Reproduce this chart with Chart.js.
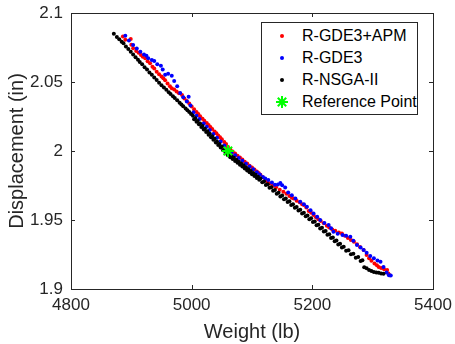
<!DOCTYPE html>
<html>
<head>
<meta charset="utf-8">
<script src="https://cdn.jsdelivr.net/npm/chart.js@4.4.0/dist/chart.umd.min.js"></script>
<style>
  body { margin: 0; background: #fff; }
  #wrap { position: relative; width: 455px; height: 344px; }
  #legend {
    position: absolute; left: 261px; top: 22px; width: 157px; height: 93px;
    box-sizing: border-box; border: 1px solid #262626; background: #fff;
    padding-top: 2px; font: 16px "Liberation Sans", Arial, sans-serif; color: #000;
  }
  .row { display: flex; align-items: center; height: 22px; }
  .mk { width: 40px; display: flex; justify-content: center; align-items: center; }
</style>
</head>
<body>
<div id="wrap">
  <canvas id="myChart" width="455" height="344"></canvas>
  <div id="legend"></div>
</div>
<script>
// R-NSGA-II (black)
const nsgaX = [4871, 4876, 4880, 4884, 4887, 4891, 4895, 4899, 4903, 4907, 4911, 4914, 4918, 4922, 4926, 4930,
  4934, 4938, 4942, 4946, 4950, 4954, 4958, 4962, 4965, 4969, 4972, 4976, 4980, 4983, 4986, 4990, 4993, 4996, 4999,
  5002, 5004, 5006, 5008, 5010, 5012, 5014, 5016, 5018, 5020, 5022, 5024, 5026, 5028, 5030, 5032, 5034, 5036, 5038,
  5040, 5042, 5044, 5046, 5048, 5050, 5052, 5054, 5056, 5058, 5060, 5062, 5064, 5066, 5068, 5070, 5072, 5074, 5076,
  5078, 5080, 5082, 5084, 5086, 5088, 5090, 5092, 5094, 5096, 5098, 5100, 5102, 5104, 5106, 5108, 5110, 5112, 5114,
  5117, 5120, 5123, 5126, 5129, 5132, 5135, 5138, 5141, 5144, 5147, 5150, 5153, 5156, 5159, 5162, 5165, 5168, 5171,
  5174, 5177, 5180, 5183, 5186, 5189, 5192, 5195, 5198, 5201, 5204, 5207, 5210, 5213, 5216, 5219, 5222, 5225, 5228,
  5231, 5234, 5237, 5240, 5243, 5246, 5249, 5252, 5256, 5260, 5264, 5268, 5272, 5276, 5280, 5283, 5286, 5290, 5294,
  5298, 5302, 5306, 5310, 5314, 5318];
const nsgaY = [2.0850, 2.0826, 2.0810, 2.0791, 2.0781, 2.0758, 2.0740, 2.0719, 2.0699, 2.0680, 2.0662, 2.0645, 2.0628,
  2.0606, 2.0590, 2.0569, 2.0553, 2.0532, 2.0514, 2.0495, 2.0477, 2.0460, 2.0443, 2.0426, 2.0413, 2.0396, 2.0384,
  2.0367, 2.0350, 2.0337, 2.0325, 2.0308, 2.0295, 2.0282, 2.0269, 2.0256, 2.0230, 2.0237, 2.0212, 2.0218, 2.0193,
  2.0200, 2.0174, 2.0181, 2.0156, 2.0162, 2.0137, 2.0144, 2.0118, 2.0125, 2.0100, 2.0106, 2.0081, 2.0088, 2.0062,
  2.0069, 2.0044, 2.0050, 2.0025, 2.0032, 2.0006, 2.0013, 1.9988, 1.9994, 1.9969, 1.9978, 1.9955, 1.9964, 1.9942,
  1.9951, 1.9928, 1.9937, 1.9914, 1.9923, 1.9900, 1.9910, 1.9887, 1.9896, 1.9873, 1.9882, 1.9859, 1.9868, 1.9846,
  1.9855, 1.9832, 1.9841, 1.9818, 1.9827, 1.9805, 1.9814, 1.9791, 1.9800, 1.9774, 1.9779, 1.9753, 1.9759, 1.9733,
  1.9738, 1.9712, 1.9718, 1.9691, 1.9697, 1.9671, 1.9677, 1.9650, 1.9656, 1.9630, 1.9635, 1.9609, 1.9615, 1.9588,
  1.9594, 1.9568, 1.9574, 1.9547, 1.9553, 1.9527, 1.9532, 1.9506, 1.9512, 1.9485, 1.9490, 1.9462, 1.9466, 1.9439,
  1.9443, 1.9416, 1.9420, 1.9393, 1.9397, 1.9369, 1.9374, 1.9346, 1.9351, 1.9323, 1.9327, 1.9300, 1.9306, 1.9277,
  1.9281, 1.9252, 1.9256, 1.9227, 1.9231, 1.9202, 1.9209, 1.9158, 1.9150, 1.9138, 1.9130, 1.9124, 1.9120, 1.9117,
  1.9113, 1.9110];

// R-GDE3+APM (red)
const apmX = [4886, 4890, 4899, 4900, 4903, 4908, 4912, 4916, 4919, 4923, 4927, 4931, 4935, 4938, 4942, 4946, 4950,
  4953, 4956, 4960, 4964, 4967, 4971, 4975, 4979, 4984, 4988, 4992, 4996, 5000, 5004, 5008, 5011, 5014, 5018, 5021,
  5025, 5028, 5031, 5034, 5038, 5041, 5044, 5047, 5050, 5054, 5057, 5060, 5064, 5068, 5072, 5076, 5080, 5084, 5088,
  5092, 5096, 5100, 5104, 5108, 5111, 5114, 5118, 5122, 5126, 5130, 5135, 5140, 5146, 5152, 5157, 5162, 5166, 5169,
  5174, 5179, 5183, 5186, 5190, 5194, 5198, 5202, 5206, 5210, 5214, 5219, 5224, 5228, 5233, 5238, 5244, 5249, 5254,
  5259, 5264, 5269, 5274, 5279, 5285, 5290, 5294, 5298, 5303, 5307, 5310, 5314, 5319, 5324, 5326, 5328];
const apmY = [2.0830, 2.0806, 2.0812, 2.0770, 2.0745, 2.0725, 2.0712, 2.0695, 2.0683, 2.0672, 2.0650, 2.0636, 2.0610,
  2.0598, 2.0575, 2.0556, 2.0540, 2.0527, 2.0512, 2.0490, 2.0470, 2.0455, 2.0445, 2.0432, 2.0418, 2.0405, 2.0380,
  2.0363, 2.0345, 2.0322, 2.0302, 2.0283, 2.0268, 2.0252, 2.0234, 2.0220, 2.0202, 2.0188, 2.0174, 2.0160, 2.0141,
  2.0128, 2.0112, 2.0100, 2.0086, 2.0066, 2.0050, 2.0030, 2.0012, 1.9996, 1.9982, 1.9966, 1.9953, 1.9938, 1.9922,
  1.9910, 1.9893, 1.9880, 1.9866, 1.9851, 1.9840, 1.9827, 1.9810, 1.9790, 1.9775, 1.9765, 1.9750, 1.9738, 1.9720,
  1.9705, 1.9690, 1.9674, 1.9662, 1.9656, 1.9640, 1.9628, 1.9615, 1.9608, 1.9590, 1.9566, 1.9552, 1.9537, 1.9520,
  1.9506, 1.9492, 1.9476, 1.9458, 1.9445, 1.9432, 1.9422, 1.9410, 1.9402, 1.9385, 1.9370, 1.9355, 1.9342, 1.9325,
  1.9305, 1.9283, 1.9246, 1.9222, 1.9205, 1.9185, 1.9172, 1.9160, 1.9152, 1.9143, 1.9137, 1.9112, 1.9100];

// R-GDE3 (blue)
const gde3X = [4890, 4896, 4903, 4909, 4915, 4921, 4925, 4928, 4934, 4938, 4943, 4949, 4952, 4956, 4961, 4967, 4971,
  4976, 4981, 4986, 4992, 4995, 4998, 5003, 5008, 5013, 5020, 5025, 5030, 5036, 5042, 5048, 5054, 5060, 5066, 5072,
  5078, 5084, 5090, 5096, 5102, 5108, 5113, 5118, 5122, 5127, 5133, 5138, 5143, 5147, 5150, 5155, 5160, 5166, 5172,
  5180, 5186, 5191, 5197, 5202, 5208, 5213, 5220, 5227, 5231, 5235, 5242, 5250, 5256, 5263, 5268, 5274, 5280, 5285,
  5290, 5296, 5302, 5308, 5313, 5318, 5323, 5327, 5330];
const gde3Y = [2.0835, 2.0800, 2.0768, 2.0742, 2.0719, 2.0700, 2.0690, 2.0672, 2.0660, 2.0652, 2.0628, 2.0618, 2.0590,
  2.0552, 2.0560, 2.0545, 2.0507, 2.0470, 2.0420, 2.0390, 2.0358, 2.0393, 2.0330, 2.0280, 2.0256, 2.0232, 2.0200,
  2.0176, 2.0152, 2.0124, 2.0096, 2.0068, 2.0040, 2.0012, 1.9990, 1.9970, 1.9949, 1.9929, 1.9908, 1.9887, 1.9867,
  1.9846, 1.9829, 1.9812, 1.9800, 1.9790, 1.9772, 1.9755, 1.9758, 1.9768, 1.9752, 1.9735, 1.9700, 1.9680, 1.9655,
  1.9632, 1.9615, 1.9596, 1.9570, 1.9548, 1.9523, 1.9500, 1.9478, 1.9463, 1.9440, 1.9414, 1.9400, 1.9392, 1.9385,
  1.9378, 1.9350, 1.9318, 1.9300, 1.9282, 1.9262, 1.9240, 1.9222, 1.9207, 1.9197, 1.9160, 1.9120, 1.9100, 1.9098];

const refX = [5060];
const refY = [2.0];

const seriesNames = ["R-GDE3+APM", "R-GDE3", "R-NSGA-II", "Reference Point"];
const seriesColors = ["#ff0000", "#0000ff", "#000000", "#00ff00"];

const xTicks = [4800, 5000, 5200, 5400];
const xTickLabels = ["4800", "5000", "5200", "5400"];
const yTicks = [1.9, 1.95, 2.0, 2.05, 2.1];
const yTickLabels = ["1.9", "1.95", "2", "2.05", "2.1"];

const toPoints = (xs, ys) => xs.map((x, i) => ({ x: x, y: ys[i] }));

const FONT = "'Liberation Sans', Arial, sans-serif";
const AXIS_COLOR = "#262626";

// box around the axes with inward ticks, like matlab
const axesBox = {
  id: "axesBox",
  afterDraw(chart) {
    const ctx = chart.ctx;
    const a = chart.chartArea;
    const xs = chart.scales.x;
    const ys = chart.scales.y;
    ctx.save();
    ctx.strokeStyle = AXIS_COLOR;
    ctx.lineWidth = 1;
    ctx.strokeRect(a.left + 0.5, a.top + 0.5, a.right - a.left, a.bottom - a.top);
    ctx.beginPath();
    for (let v of xTicks) {
      let px = Math.round(xs.getPixelForValue(v)) + 0.5;
      ctx.moveTo(px, a.bottom); ctx.lineTo(px, a.bottom - 4);
      ctx.moveTo(px, a.top); ctx.lineTo(px, a.top + 4);
    }
    for (let v of yTicks) {
      let py = Math.round(ys.getPixelForValue(v)) + 0.5;
      ctx.moveTo(a.left, py); ctx.lineTo(a.left + 4, py);
      ctx.moveTo(a.right, py); ctx.lineTo(a.right - 4, py);
    }
    ctx.stroke();
    ctx.restore();
  }
};

const dotSet = (i, xs, ys, order) => ({
  label: seriesNames[i],
  data: toPoints(xs, ys),
  backgroundColor: seriesColors[i],
  borderColor: seriesColors[i],
  pointRadius: 2,
  borderWidth: 0,
  order: order
});

const chart = new Chart("myChart", {
  type: "scatter",
  data: {
    datasets: [
      dotSet(0, apmX, apmY, 3),
      dotSet(1, gde3X, gde3Y, 2),
      dotSet(2, nsgaX, nsgaY, 1),
      {
        label: seriesNames[3],
        data: toPoints(refX, refY),
        pointStyle: "star",
        pointRadius: 6,
        borderColor: seriesColors[3],
        backgroundColor: seriesColors[3],
        borderWidth: 2,
        order: 0
      }
    ]
  },
  options: {
    responsive: false,
    animation: false,
    devicePixelRatio: 1,
    layout: { padding: { top: 13, right: 22, left: 0, bottom: 0 } },
    plugins: { legend: { display: false }, tooltip: { enabled: false } },
    scales: {
      x: {
        type: "linear",
        min: 4800,
        max: 5400,
        grid: { display: false, drawTicks: false },
        border: { display: false },
        afterBuildTicks: (s) => { s.ticks = xTicks.map(v => ({ value: v })); },
        afterFit: (s) => { s.height = 55; s.paddingLeft = 0; s.paddingRight = 0; },
        ticks: {
          padding: 6,
          color: AXIS_COLOR,
          font: { family: FONT, size: 17 },
          maxRotation: 0,
          callback: (v) => xTickLabels[xTicks.indexOf(v)]
        },
        title: {
          display: true,
          text: "Weight (lb)",
          color: AXIS_COLOR,
          font: { family: FONT, size: 20 },
          padding: { top: 0, bottom: 0 }
        }
      },
      y: {
        type: "linear",
        min: 1.9,
        max: 2.1,
        grid: { display: false, drawTicks: false },
        border: { display: false },
        afterBuildTicks: (s) => { s.ticks = yTicks.map(v => ({ value: v })); },
        afterFit: (s) => { s.width = 71; s.paddingTop = 0; s.paddingBottom = 0; },
        ticks: {
          padding: 8,
          color: AXIS_COLOR,
          font: { family: FONT, size: 17 },
          callback: (v) => {
            let k = yTicks.findIndex(t => Math.abs(t - v) < 1e-9);
            return k >= 0 ? yTickLabels[k] : "";
          }
        },
        title: {
          display: true,
          text: "Displacement (in)",
          color: AXIS_COLOR,
          font: { family: FONT, size: 20 },
          padding: { top: 5, bottom: 0 }
        }
      }
    }
  },
  plugins: [axesBox]
});

// legend box inside the axes
const legendDiv = document.getElementById("legend");
chart.data.datasets.forEach((ds, i) => {
  let row = document.createElement("div");
  row.className = "row";
  let mk = document.createElement("span");
  mk.className = "mk";
  if (ds.pointStyle === "star") {
    mk.innerHTML = '<svg width="14" height="14" viewBox="0 0 14 14"><g stroke="' + ds.borderColor +
      '" stroke-width="2"><line x1="7" y1="1" x2="7" y2="13"/><line x1="1" y1="7" x2="13" y2="7"/>' +
      '<line x1="2.8" y1="2.8" x2="11.2" y2="11.2"/><line x1="11.2" y1="2.8" x2="2.8" y2="11.2"/></g></svg>';
  } else {
    mk.innerHTML = '<span style="display:block;width:4px;height:4px;border-radius:2px;background:' +
      ds.backgroundColor + '"></span>';
  }
  let txt = document.createElement("span");
  txt.textContent = ds.label;
  row.appendChild(mk);
  row.appendChild(txt);
  legendDiv.appendChild(row);
});
</script>
</body>
</html>
